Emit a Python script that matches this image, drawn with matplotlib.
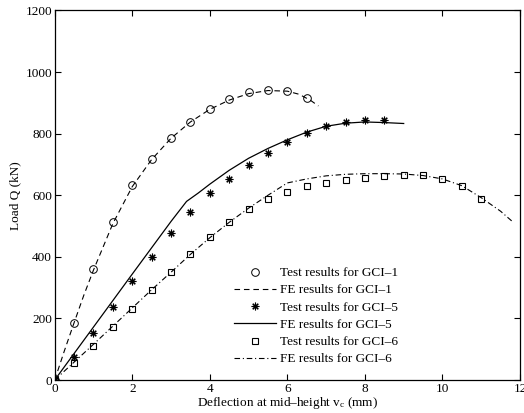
#!/usr/bin/env python3
import matplotlib
matplotlib.use('Agg')
import matplotlib.pyplot as plt

plt.rcParams['font.family'] = ['Liberation Serif', 'DejaVu Serif']
plt.rcParams['mathtext.fontset'] = 'custom'
plt.rcParams['mathtext.rm'] = 'Liberation Serif'
plt.rcParams['mathtext.it'] = 'Liberation Serif:italic'

# test results (deflection mm, load kN)
test1_x = [0, 0.5, 1, 1.5, 2, 2.5, 3, 3.5, 4, 4.5, 5, 5.5, 6, 6.5]
test1_y = [0, 186, 360, 512, 632, 718, 786, 838, 881, 912, 934, 943, 939, 916]

test5_x = [0, 0.5, 1, 1.5, 2, 2.5, 3, 3.5, 4, 4.5, 5, 5.5, 6, 6.5, 7, 7.5, 8, 8.5]
test5_y = [0, 76, 154, 236, 321, 401, 477, 545, 607, 654, 698, 737, 773, 802, 826, 839, 845, 843]

test6_x = [0, 0.5, 1, 1.5, 2, 2.5, 3, 3.5, 4, 4.5, 5, 5.5, 6, 6.5, 7, 7.5, 8, 8.5,
           9, 9.5, 10, 10.5, 11]
test6_y = [0, 54, 112, 171, 232, 293, 351, 410, 463, 512, 555, 587, 612, 630, 640,
           648, 656, 664, 667, 667, 653, 631, 589]

# FE results
fe1_x = [0, 0.25, 0.5, 0.75, 1, 1.5, 2, 2.5, 3, 3.5, 4, 4.5, 5, 5.5, 6, 6.3, 6.6, 6.8]
fe1_y = [0, 95, 186, 275, 357, 508, 628, 716, 785, 838, 879, 909, 930, 940, 938, 928, 908, 890]

fe5_x = [0, 1, 2, 3, 3.4, 3.7, 4, 4.5, 5, 5.5, 6, 6.5, 7, 7.5, 8, 8.5, 9]
fe5_y = [0, 172, 344, 515, 580, 607, 636, 681, 720, 752, 780, 805, 824, 834, 838, 836, 833]

fe6_x = [0, 0.5, 1, 1.5, 2, 2.5, 3, 3.5, 4, 4.5, 5, 5.5, 6, 6.5, 7, 7.5, 8, 8.5,
         9, 9.5, 10, 10.5, 11, 11.5, 11.8]
fe6_y = [0, 58, 116, 175, 234, 293, 350, 408, 462, 512, 558, 600, 640, 653, 663, 668,
         670, 670, 669, 664, 653, 631, 592, 548, 515]


def main():
    fig = plt.figure(figsize=(5.24, 4.13), dpi=100)
    ax = fig.add_axes([0.1044, 0.0799, 0.8880, 0.8947])

    ax.plot(test1_x, test1_y, 'o', color='k', mfc='none', ms=5.5, mew=0.7,
            label='Test results for GCI\u20131')
    ax.plot(fe1_x, fe1_y, color='k', lw=0.8, dashes=(5, 3.5),
            label='FE results for GCI\u20131')
    ax.plot(test5_x, test5_y, marker=(8, 2, 0), ls='none', color='k', ms=5.5,
            mew=0.8, label='Test results for GCI\u20135')
    ax.plot(fe5_x, fe5_y, '-', color='k', lw=0.9,
            label='FE results for GCI\u20135')
    ax.plot(test6_x, test6_y, 's', color='k', mfc='none', ms=5, mew=0.8,
            label='Test results for GCI\u20136')
    ax.plot(fe6_x, fe6_y, color='k', lw=0.8, dashes=(5, 2.5, 1, 2.5),
            label='FE results for GCI\u20136')

    ax.set_xlim(0, 12)
    ax.set_ylim(0, 1200)
    ax.set_xticks(range(0, 13, 2))
    ax.set_yticks(range(0, 1201, 200))
    ax.tick_params(direction='in', top=True, right=True, labelsize=9.5,
                   length=4, width=0.8, pad=2)
    for s in ax.spines.values():
        s.set_linewidth(0.9)

    ax.set_xlabel('Deflection at mid\u2013height v$_\\mathrm{c}$ (mm)', fontsize=9.5,
                  labelpad=0)
    ax.set_ylabel('Load Q (kN)', fontsize=9.5, labelpad=3)

    ax.legend(loc='lower right', bbox_to_anchor=(0.75, 0.025), frameon=False,
              fontsize=9.5, handlelength=3.2, handletextpad=0.3,
              labelspacing=0.38, borderaxespad=0)

    fig.savefig('out.png', dpi=100)


if __name__ == '__main__':
    main()
